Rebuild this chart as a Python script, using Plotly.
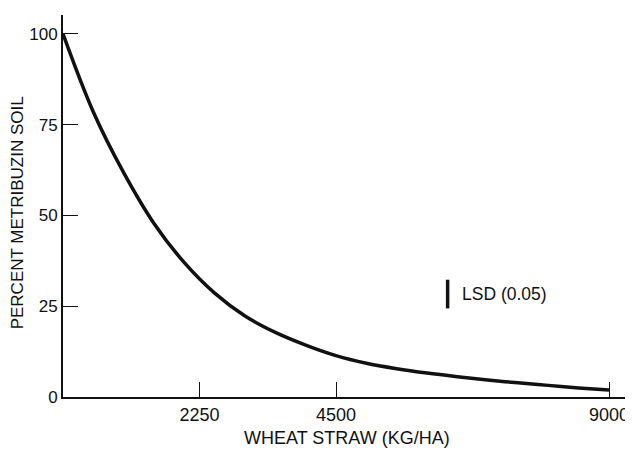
import plotly.graph_objects as go

# Data
straw_kg_ha = [0, 500, 1000, 1500, 2000, 2500, 3000, 3500, 4000, 4500,
               5000, 5500, 6000, 6500, 7000, 7500, 8000, 8500, 9000]
percent_metribuzin = [100, 78.5, 61.8, 47.8, 37.0, 28.6, 22.3, 17.8, 14.3, 11.4,
                      9.3, 7.8, 6.6, 5.6, 4.7, 3.9, 3.2, 2.5, 1.9]

x_tickvals = [2250, 4500, 9000]
y_tickvals = [0, 25, 50, 75, 100]

lsd_x = [6340, 6340]
lsd_y = [24.4, 32.3]
lsd_label = "LSD (0.05)"

x_title = "WHEAT STRAW (KG/HA)"
y_title = "PERCENT METRIBUZIN SOIL"

FONT = "Liberation Sans, Arial, Helvetica, sans-serif"
INK = "#111111"

fig = go.Figure()
fig.add_trace(go.Scatter(
    x=straw_kg_ha, y=percent_metribuzin, mode="lines",
    line=dict(color=INK, width=3.5, shape="spline", smoothing=1.0),
    hoverinfo="skip", showlegend=False, cliponaxis=False,
))
fig.add_trace(go.Scatter(
    x=lsd_x, y=lsd_y, mode="lines",
    line=dict(color=INK, width=3.5),
    hoverinfo="skip", showlegend=False,
))

fig.add_annotation(
    x=lsd_x[0], y=sum(lsd_y) / 2, xref="x", yref="y",
    text=lsd_label, showarrow=False, xanchor="left", yanchor="middle",
    xshift=12, font=dict(family=FONT, size=17.5, color=INK),
)
fig.add_annotation(
    x=0.5, y=-0.108, xref="paper", yref="paper",
    text=x_title, showarrow=False, xanchor="center", yanchor="middle",
    font=dict(family=FONT, size=18, color=INK),
)
fig.add_annotation(
    x=-0.081, y=0.481, xref="paper", yref="paper",
    text=y_title, showarrow=False, textangle=-90,
    xanchor="center", yanchor="middle",
    font=dict(family=FONT, size=17, color=INK),
)

fig.update_layout(
    width=625, height=443,
    margin=dict(l=55, r=3, t=7, b=54),
    paper_bgcolor="white", plot_bgcolor="white",
    font=dict(family=FONT, size=17, color=INK),
    xaxis=dict(
        range=[0, 9346], tickvals=x_tickvals, ticktext=[str(v) for v in x_tickvals],
        ticks="inside", ticklen=15, tickwidth=1.3, tickcolor=INK,
        showline=True, linecolor=INK, linewidth=2,
        showgrid=False, zeroline=False,
        tickfont=dict(family=FONT, size=18, color=INK),
    ),
    yaxis=dict(
        range=[0, 105.2], tickvals=y_tickvals, ticktext=[str(v) for v in y_tickvals],
        ticks="inside", ticklen=15, tickwidth=1.3, tickcolor=INK,
        showline=True, linecolor=INK, linewidth=2,
        showgrid=False, zeroline=False,
        tickfont=dict(family=FONT, size=17, color=INK),
    ),
)

fig.write_html("out.html")
